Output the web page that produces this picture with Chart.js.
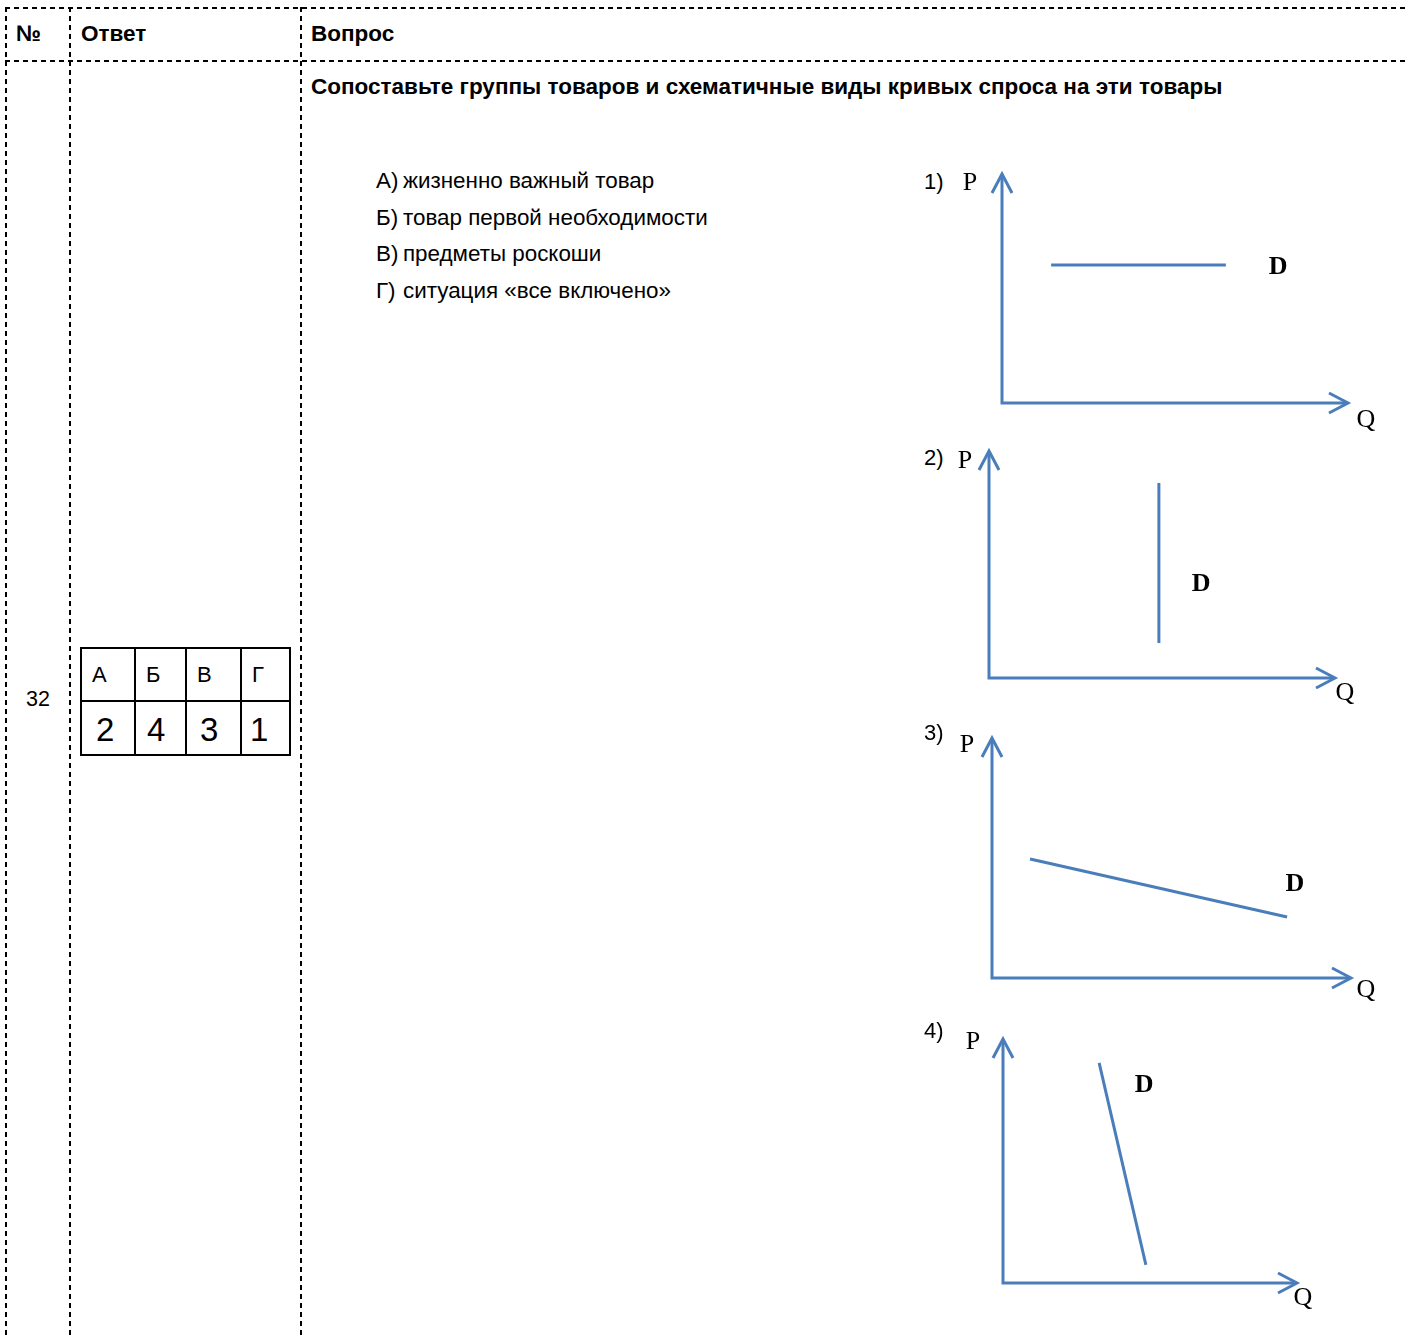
<!DOCTYPE html>
<html>
<head>
<meta charset="utf-8">
<script src="https://cdn.jsdelivr.net/npm/chart.js@4"></script>
<style>
  html, body { margin: 0; padding: 0; background: #fff; }
  body { width: 1406px; height: 1337px; position: relative; overflow: hidden;
         font-family: "Liberation Sans", Arial, sans-serif; color: #000; }
  .abs { position: absolute; white-space: nowrap; }
  .vdash { position: absolute; width: 2px; top: 7px; bottom: 0;
           background: repeating-linear-gradient(to bottom, #000 0 5px, transparent 5px 9px); }
  .hdash { position: absolute; height: 2px; left: 5px; right: 0;
           background: repeating-linear-gradient(to right, #000 0 5px, transparent 5px 9px); }
  .hdr { font-weight: bold; font-size: 22.5px; line-height: 30px; }
  .item { font-size: 22.4px; line-height: 36.5px; }
  .item span { display: inline-block; width: 27px; }
  table.ans { position: absolute; left: 80px; top: 647px; border-collapse: collapse; }
  table.ans td { border: 2px solid #000; padding: 0 0 0 10px; text-align: left; }
  table.ans tr.l td { height: 51px; font-size: 22px; }
  table.ans tr.n td { height: 48px; font-size: 33px; padding-top: 4px; }
  canvas { position: absolute; }
</style>
</head>
<body>

<div class="vdash" style="left:5px"></div>
<div class="vdash" style="left:69px"></div>
<div class="vdash" style="left:300px"></div>
<div class="hdash" style="top:7px"></div>
<div class="hdash" style="top:60px"></div>

<div class="abs hdr" style="left:16px; top:19px">№</div>
<div class="abs hdr" style="left:81px; top:19px">Ответ</div>
<div class="abs hdr" style="left:311px; top:19px">Вопрос</div>
<div class="abs hdr" style="left:311px; top:72px">Сопоставьте группы товаров и схематичные виды кривых спроса на эти товары</div>

<div id="items" class="abs" style="left:376px; top:163px"></div>

<div class="abs" style="left:26px; top:684px; font-size:21.5px; line-height:30px">32</div>

<table class="ans" id="answer"></table>

<div id="panels"></div>

<script>
// matching: goods group -> curve number
const groupKeys = ['А', 'Б', 'В', 'Г'];
const groupNames = ['жизненно важный товар', 'товар первой необходимости', 'предметы роскоши', 'ситуация «все включено»'];
const answerNums = [2, 4, 3, 1];

// schematic demand curves, axis units 0..10 (Q horizontal, P vertical)
const panelNames = ['1)', '2)', '3)', '4)'];
const demandQ = [[1.42, 6.47], [4.91, 4.91], [1.06, 8.22], [3.27, 4.86]];
const demandP = [[6.03, 6.03], [1.54, 8.59], [4.96, 2.54], [9.02, 0.74]];
const labelDQ = [7.98, 6.13, 8.44, 4.80];
const labelDP = [5.94, 4.14, 3.92, 8.11];

const BLUE = 'rgb(74, 126, 187)';
const PAD = 50;

// where each little diagram sits on the page (axis origin x, arrow tip y, axis lengths)
const layout = [
  { ox: 1002, ty: 174, w: 346, h: 229, pOff: [-32, 9], qOff: [18, 17], numY: 182 },
  { ox: 989,  ty: 451, w: 346, h: 227, pOff: [-24, 10], qOff: [10, 15], numY: 458 },
  { ox: 992,  ty: 738, w: 359, h: 240, pOff: [-25, 7], qOff: [15, 12], numY: 733 },
  { ox: 1003, ty: 1039, w: 294, h: 244, pOff: [-30, 3], qOff: [6, 15], numY: 1031 }
];

// list of groups
var items = document.getElementById('items');
groupKeys.forEach(function (k, i) {
  var d = document.createElement('div');
  d.className = 'item';
  d.innerHTML = '<span>' + k + ')</span>' + groupNames[i];
  items.appendChild(d);
});

// answer grid
var ans = document.getElementById('answer');
var r1 = ans.insertRow(); r1.className = 'l';
var r2 = ans.insertRow(); r2.className = 'n';
var widths = [52, 49, 53, 47];
var numPad = [14, 11, 13, 8];
groupKeys.forEach(function (k, i) {
  var c1 = r1.insertCell(); c1.textContent = k; c1.style.width = (widths[i] - 10) + 'px';
  var c2 = r2.insertCell(); c2.textContent = answerNums[i]; c2.style.paddingLeft = numPad[i] + 'px';
});

function arrowHead(ctx, x, y, dx, dy) {
  // open chevron, tip at (x, y), pointing along (dx, dy)
  var len = 19, half = 10;
  var px = -dy, py = dx;
  ctx.beginPath();
  ctx.moveTo(x - dx * len + px * half, y - dy * len + py * half);
  ctx.lineTo(x, y);
  ctx.lineTo(x - dx * len - px * half, y - dy * len - py * half);
  ctx.stroke();
}

const axesPlugin = {
  id: 'axesPlugin',
  afterDatasetsDraw(chart, args, opts) {
    const ctx = chart.ctx;
    const xs = chart.scales.x, ys = chart.scales.y;
    const x0 = xs.getPixelForValue(0), y0 = ys.getPixelForValue(0);
    const x1 = xs.getPixelForValue(10), y1 = ys.getPixelForValue(10);
    ctx.save();
    ctx.strokeStyle = BLUE;
    ctx.lineWidth = 3;
    ctx.lineJoin = 'miter';
    ctx.beginPath();
    ctx.moveTo(x0, y1 + 1);
    ctx.lineTo(x0, y0);
    ctx.lineTo(x1 - 1, y0);
    ctx.stroke();
    arrowHead(ctx, x0, y1, 0, -1);
    arrowHead(ctx, x1, y0, 1, 0);

    ctx.fillStyle = '#000';
    ctx.textAlign = 'center';
    ctx.textBaseline = 'middle';
    ctx.font = '26px "Liberation Serif", "Times New Roman", serif';
    ctx.fillText('P', x0 + opts.pOff[0], y1 + opts.pOff[1]);
    ctx.fillText('Q', x1 + opts.qOff[0], y0 + opts.qOff[1]);
    ctx.font = 'bold 26px "Liberation Serif", "Times New Roman", serif';
    ctx.fillText('D', xs.getPixelForValue(opts.dq), ys.getPixelForValue(opts.dp));
    ctx.restore();
  }
};

var holder = document.getElementById('panels');
layout.forEach(function (L, i) {
  var num = document.createElement('div');
  num.className = 'abs';
  num.style.cssText = 'left:924px; top:' + (L.numY - 15) + 'px; font-size:22px; line-height:30px';
  num.textContent = panelNames[i];
  holder.appendChild(num);

  var cv = document.createElement('canvas');
  cv.width = L.w + 2 * PAD;
  cv.height = L.h + 2 * PAD;
  cv.style.left = (L.ox - PAD) + 'px';
  cv.style.top = (L.ty - PAD) + 'px';
  holder.appendChild(cv);

  var pts = demandQ[i].map(function (q, j) { return { x: q, y: demandP[i][j] }; });
  new Chart(cv, {
    type: 'scatter',
    data: {
      datasets: [{
        label: 'D',
        data: pts,
        showLine: true,
        borderColor: BLUE,
        borderWidth: 3,
        pointRadius: 0,
        fill: false
      }]
    },
    options: {
      responsive: false,
      animation: false,
      devicePixelRatio: 1,
      layout: { padding: PAD },
      scales: {
        x: { type: 'linear', min: 0, max: 10, display: false },
        y: { type: 'linear', min: 0, max: 10, display: false }
      },
      plugins: {
        legend: { display: false },
        tooltip: { enabled: false },
        axesPlugin: { pOff: L.pOff, qOff: L.qOff, dq: labelDQ[i], dp: labelDP[i] }
      }
    },
    plugins: [axesPlugin]
  });
});
</script>
</body>
</html>
